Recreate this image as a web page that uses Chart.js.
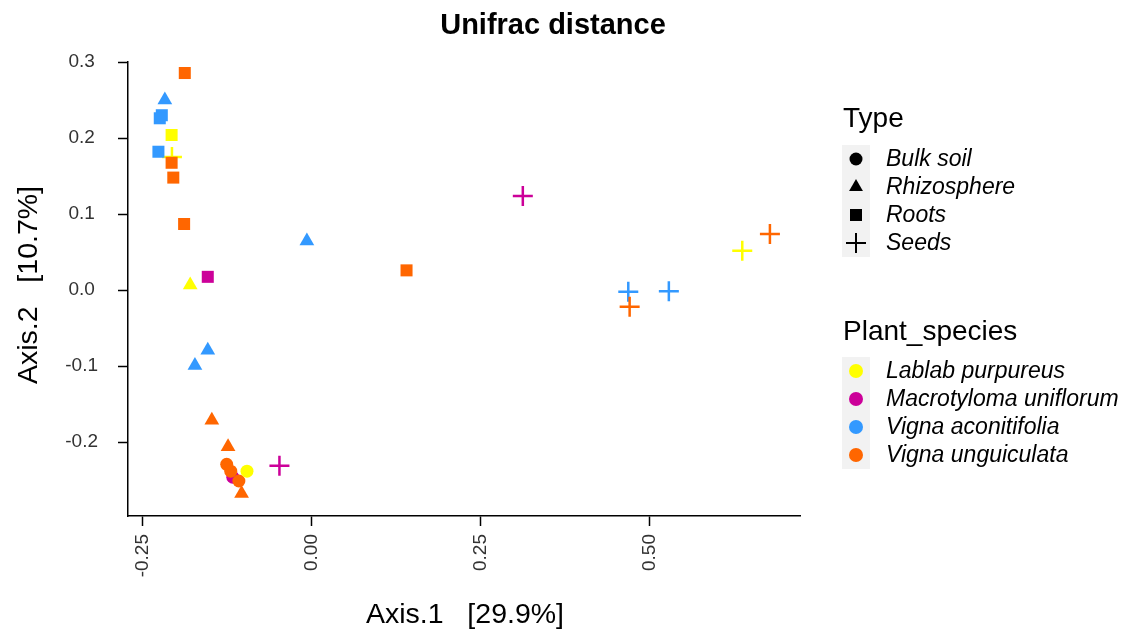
<!DOCTYPE html>
<html><head><meta charset="utf-8">
<script src="https://cdn.jsdelivr.net/npm/chart.js@4.4.1/dist/chart.umd.min.js"></script>
<style>html,body{margin:0;padding:0;background:#fff;}</style>
</head><body>
<canvas id="c" width="1132" height="637"></canvas>
<script>
// ---- data ----
const typeLabels = ['Bulk soil', 'Rhizosphere', 'Roots', 'Seeds'];
const speciesLabels = ['Lablab purpureus', 'Macrotyloma uniflorum', 'Vigna aconitifolia', 'Vigna unguiculata'];
const speciesColors = ['#FFFF00', '#CC0099', '#3399FF', '#FF6600'];

// species index: 0 Lablab, 1 Macrotyloma, 2 V. aconitifolia, 3 V. unguiculata
const bulkX  = [-0.117, -0.126, -0.120, -0.108, -0.096];
const bulkY  = [-0.246, -0.229, -0.238, -0.251, -0.238];
const bulkSp = [1, 3, 3, 3, 0];

const rhizoX  = [-0.2175, -0.180, -0.0074, -0.154, -0.173, -0.148, -0.124, -0.104];
const rhizoY  = [0.250, 0.0066, 0.0645, -0.079, -0.099, -0.171, -0.206, -0.2675];
const rhizoSp = [2, 0, 2, 2, 2, 3, 3, 3];

const rootsX  = [-0.188, -0.222, -0.225, -0.2075, -0.227, -0.2075, -0.205, -0.189, -0.154, 0.140];
const rootsY  = [0.2855, 0.230, 0.226, 0.204, 0.182, 0.1675, 0.148, 0.087, 0.0175, 0.026];
const rootsSp = [3, 2, 2, 0, 2, 3, 3, 3, 1, 3];

const seedsX  = [-0.207, 0.312, -0.048, 0.468, 0.528, 0.470, 0.6366, 0.6775];
const seedsY  = [0.175, 0.1237, -0.231, -0.002, -0.0013, -0.022, 0.0517, 0.0737];
const seedsSp = [0, 1, 1, 2, 2, 3, 0, 3];

const xTicks = [-0.25, 0, 0.25, 0.5];
const yTicks = [-0.2, -0.1, 0, 0.1, 0.2, 0.3];

const chartTitle = 'Unifrac distance';
const xTitle = 'Axis.1   [29.9%]';
const yTitle = 'Axis.2   [10.7%]';
const typeTitle = 'Type';
const speciesTitle = 'Plant_species';

const FONT = '"Liberation Sans", Arial, sans-serif';

function pts(xs, ys) { return xs.map((x, i) => ({x: x, y: ys[i]})); }
function cols(sp) { return sp.map(s => speciesColors[s]); }

function ds(label, xs, ys, sp, style, radius, order) {
  const isCross = style === 'cross';
  return {
    label: label,
    data: pts(xs, ys),
    pointStyle: style,
    pointRadius: radius,
    pointHoverRadius: radius,
    pointBackgroundColor: cols(sp),
    pointBorderColor: cols(sp),
    pointBorderWidth: isCross ? 2.5 : 0,
    showLine: false,
    order: order
  };
}

// dataset index 0 drawn on top
const datasets = [
  ds(typeLabels[0], bulkX, bulkY, bulkSp, 'circle', 6.5, 0),
  ds(typeLabels[2], rootsX, rootsY, rootsSp, 'rect', 8.5, 1),
  ds(typeLabels[1], rhizoX, rhizoY, rhizoSp, 'triangle', 8.5, 2),
  ds(typeLabels[3], seedsX, seedsY, seedsSp, 'cross', 10, 3)
];

function drawMarker(ctx, style, x, y, r, color) {
  ctx.save();
  ctx.fillStyle = color; ctx.strokeStyle = color;
  ctx.beginPath();
  if (style === 'circle') {
    ctx.arc(x, y, r, 0, Math.PI * 2); ctx.fill();
  } else if (style === 'triangle') {
    ctx.moveTo(x, y - r);
    ctx.lineTo(x + r * 0.866, y + r * 0.5);
    ctx.lineTo(x - r * 0.866, y + r * 0.5);
    ctx.closePath(); ctx.fill();
  } else if (style === 'rect') {
    const s = r * Math.SQRT1_2;
    ctx.rect(x - s, y - s, 2 * s, 2 * s); ctx.fill();
  } else if (style === 'cross') {
    ctx.lineWidth = 2;
    ctx.moveTo(x - r, y); ctx.lineTo(x + r, y);
    ctx.moveTo(x, y - r); ctx.lineTo(x, y + r);
    ctx.stroke();
  }
  ctx.restore();
}

const decor = {
  id: 'decor',
  afterDraw(chart) {
    const ctx = chart.ctx;
    ctx.save();
    ctx.fillStyle = '#000';
    // title
    ctx.font = 'bold 29px ' + FONT;
    ctx.textAlign = 'center'; ctx.textBaseline = 'middle';
    ctx.fillText(chartTitle, 553, 26);
    // axis titles
    ctx.font = '28.5px ' + FONT;
    ctx.fillText(xTitle, 465, 615);
    ctx.save();
    ctx.translate(29, 285); ctx.rotate(-Math.PI / 2);
    ctx.fillText(yTitle, 0, 0);
    ctx.restore();

    // legend: Type
    const kx = 842, kw = 28, kh = 28;
    const typeStyles = ['circle', 'triangle', 'rect', 'cross'];
    const typeR = [6.5, 8, 8.5, 10];
    ctx.textAlign = 'left'; ctx.textBaseline = 'alphabetic';
    ctx.font = '28px ' + FONT;
    ctx.fillText(typeTitle, 843, 127);
    let top = 145;
    ctx.fillStyle = '#F2F2F2';
    ctx.fillRect(kx, top, kw, kh * typeLabels.length);
    ctx.font = 'italic 23px ' + FONT;
    ctx.textBaseline = 'middle';
    typeLabels.forEach((t, i) => {
      const cy = top + kh / 2 + kh * i;
      drawMarker(ctx, typeStyles[i], kx + kw / 2, cy, typeR[i], '#000');
      ctx.fillStyle = '#000';
      ctx.fillText(t, 886, cy + 1);
    });

    // legend: Plant_species
    ctx.textBaseline = 'alphabetic';
    ctx.font = '28px ' + FONT;
    ctx.fillStyle = '#000';
    ctx.fillText(speciesTitle, 843, 340);
    top = 357;
    ctx.fillStyle = '#F2F2F2';
    ctx.fillRect(kx, top, kw, kh * speciesLabels.length);
    ctx.font = 'italic 23px ' + FONT;
    ctx.textBaseline = 'middle';
    speciesLabels.forEach((t, i) => {
      const cy = top + kh / 2 + kh * i;
      drawMarker(ctx, 'circle', kx + kw / 2, cy, 7, speciesColors[i]);
      ctx.fillStyle = '#000';
      ctx.fillText(t, 886, cy + 1);
    });
    ctx.restore();
  }
};

new Chart(document.getElementById('c'), {
  type: 'scatter',
  data: { datasets: datasets },
  options: {
    responsive: false,
    animation: false,
    events: [],
    layout: { padding: { top: 62, right: 332, left: 0, bottom: 0 } },
    plugins: { legend: { display: false }, tooltip: { enabled: false }, title: { display: false } },
    scales: {
      x: {
        type: 'linear', min: -0.272, max: 0.722,
        afterFit(s) { s.height = 121; },
        afterBuildTicks(s) { s.ticks = xTicks.map(v => ({value: v})); },
        grid: { drawOnChartArea: false, drawTicks: true, tickLength: 10, color: '#000', tickWidth: 1.5 },
        border: { display: true, color: '#000', width: 1.5 },
        ticks: {
          autoSkip: false, minRotation: 90, maxRotation: 90, padding: 8,
          color: '#333', font: { family: FONT, size: 19 },
          callback: v => Number(v).toFixed(2)
        }
      },
      y: {
        type: 'linear', min: -0.297, max: 0.3,
        afterFit(s) { s.width = 128; },
        afterBuildTicks(s) { s.ticks = yTicks.map(v => ({value: v})); },
        grid: { drawOnChartArea: false, drawTicks: true, tickLength: 10, color: '#000', tickWidth: 1.5 },
        border: { display: true, color: '#000', width: 1.5 },
        ticks: {
          autoSkip: false, padding: 20, crossAlign: 'center',
          color: '#333', font: { family: FONT, size: 19 },
          callback: v => Number(v).toFixed(1)
        }
      }
    }
  },
  plugins: [decor]
});
</script>
</body></html>
